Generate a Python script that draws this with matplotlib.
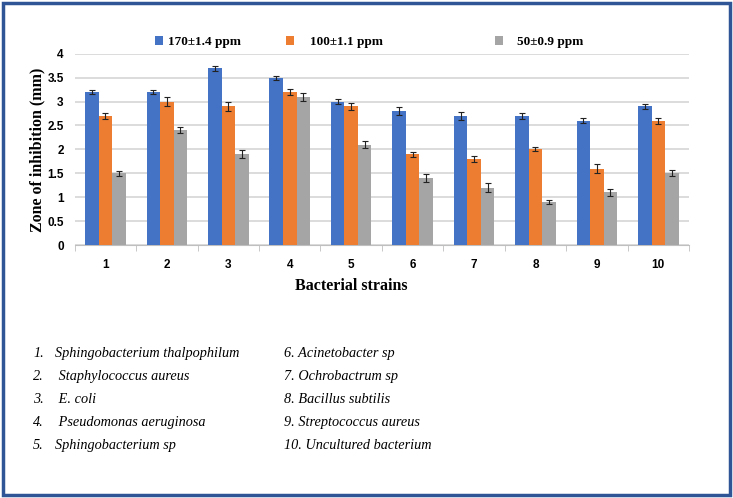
import matplotlib.pyplot as plt
import numpy as np
from matplotlib.patches import Rectangle

# Datos
cepas = ['1', '2', '3', '4', '5', '6', '7', '8', '9', '10']
series = ['170±1.4 ppm', '100±1.1 ppm', '50±0.9 ppm']
colores = ['#4472C4', '#ED7D31', '#A5A5A5']

v170 = [3.2, 3.2, 3.7, 3.5, 3.0, 2.8, 2.7, 2.7, 2.6, 2.9]
v100 = [2.7, 3.0, 2.9, 3.2, 2.9, 1.9, 1.8, 2.0, 1.6, 2.6]
v50 = [1.5, 2.4, 1.9, 3.1, 2.1, 1.4, 1.2, 0.9, 1.1, 1.5]

e170 = [0.05, 0.04, 0.05, 0.04, 0.05, 0.08, 0.09, 0.07, 0.05, 0.05]
e100 = [0.06, 0.1, 0.09, 0.06, 0.08, 0.05, 0.06, 0.04, 0.09, 0.06]
e50 = [0.05, 0.06, 0.08, 0.08, 0.07, 0.08, 0.09, 0.05, 0.08, 0.06]

nombres_1 = ['Sphingobacterium thalpophilum', ' Staphylococcus aureus', ' E. coli',
             ' Pseudomonas aeruginosa', 'Sphingobacterium sp']
nombres_2 = ['6. Acinetobacter sp', '7. Ochrobactrum sp', '8. Bacillus subtilis',
             '9. Streptococcus aureus', '10. Uncultured bacterium']

fig = plt.figure(figsize=(7.33, 4.98), dpi=100)
ax = fig.add_axes([0.102, 0.508, 0.838, 0.384])

x = np.arange(len(cepas))
w = 0.22
valores = [v170, v100, v50]
errores = [e170, e100, e50]
barras = []
for i in range(3):
    b = ax.bar(x + (i - 1) * w, valores[i], w, color=colores[i], label=series[i],
               yerr=errores[i], capsize=2, error_kw=dict(elinewidth=0.8, capthick=0.8, ecolor='#222222'),
               zorder=3)
    barras.append(b)

ax.set_xlim(-0.5, 9.5)
ax.set_ylim(0, 4)
ax.set_yticks(np.arange(0, 4.01, 0.5))
ax.set_yticklabels(['0', '0.5', '1', '1.5', '2', '2.5', '3', '3.5', '4'])
ax.set_xticks(x)
ax.set_xticklabels(cepas)
ax.set_xticks(np.arange(-0.5, 9.6, 1), minor=True)
ax.tick_params(axis='x', which='major', length=0, pad=10)
ax.tick_params(axis='x', which='minor', length=4, color='#BFBFBF')
ax.tick_params(axis='y', length=0, pad=8)
for lab in ax.get_xticklabels() + ax.get_yticklabels():
    lab.set_fontweight('bold')
    lab.set_fontsize(8.5)
    lab.set_family('Liberation Sans')

ax.grid(axis='y', color='#D9D9D9', linewidth=1.3, zorder=0)
for s in ['top', 'right', 'left']:
    ax.spines[s].set_visible(False)
ax.spines['bottom'].set_color('#BFBFBF')

ax.set_xlabel('Bacterial strains', fontsize=11.5, fontweight='bold', family='Liberation Serif')
ax.xaxis.set_label_coords(0.45, -0.17)
ax.set_ylabel('Zone of inhibition (mm)', fontsize=11.5, fontweight='bold', family='Liberation Serif')
ax.yaxis.set_label_coords(-0.048, 0.5)

# Leyenda: una entrada por serie, colocadas como en el original
pos_ley = [155 / 733, 286 / 733, 495 / 733]
sep_ley = [0.35, 1.2, 1.1]
for i in range(3):
    ley = fig.legend([barras[i]], [series[i]], loc='center left',
                     bbox_to_anchor=(pos_ley[i], 1 - 42 / 498), frameon=False,
                     borderpad=0, borderaxespad=0, handlelength=0.6, handleheight=0.6,
                     handletextpad=sep_ley[i],
                     prop={'family': 'Liberation Serif', 'weight': 'bold', 'size': 9.5})

# Lista de cepas debajo del gráfico
y0 = 1 - 353 / 498
dy = 0.0462
for k, nombre in enumerate(nombres_1):
    fig.text(0.045, y0 - k * dy, f'{k + 1}.', fontsize=10.3, style='italic',
             family='Liberation Serif', va='center')
    fig.text(0.075, y0 - k * dy, nombre, fontsize=10.3, style='italic',
             family='Liberation Serif', va='center')
for k, nombre in enumerate(nombres_2):
    fig.text(0.388, y0 - k * dy, nombre, fontsize=10.3, style='italic',
             family='Liberation Serif', va='center')

# Marco azul
fig.patches.append(Rectangle((0.004, 0.006), 0.992, 0.988, transform=fig.transFigure,
                             fill=False, edgecolor='#2F5597', linewidth=2.5))

fig.savefig('out.png', dpi=100)
